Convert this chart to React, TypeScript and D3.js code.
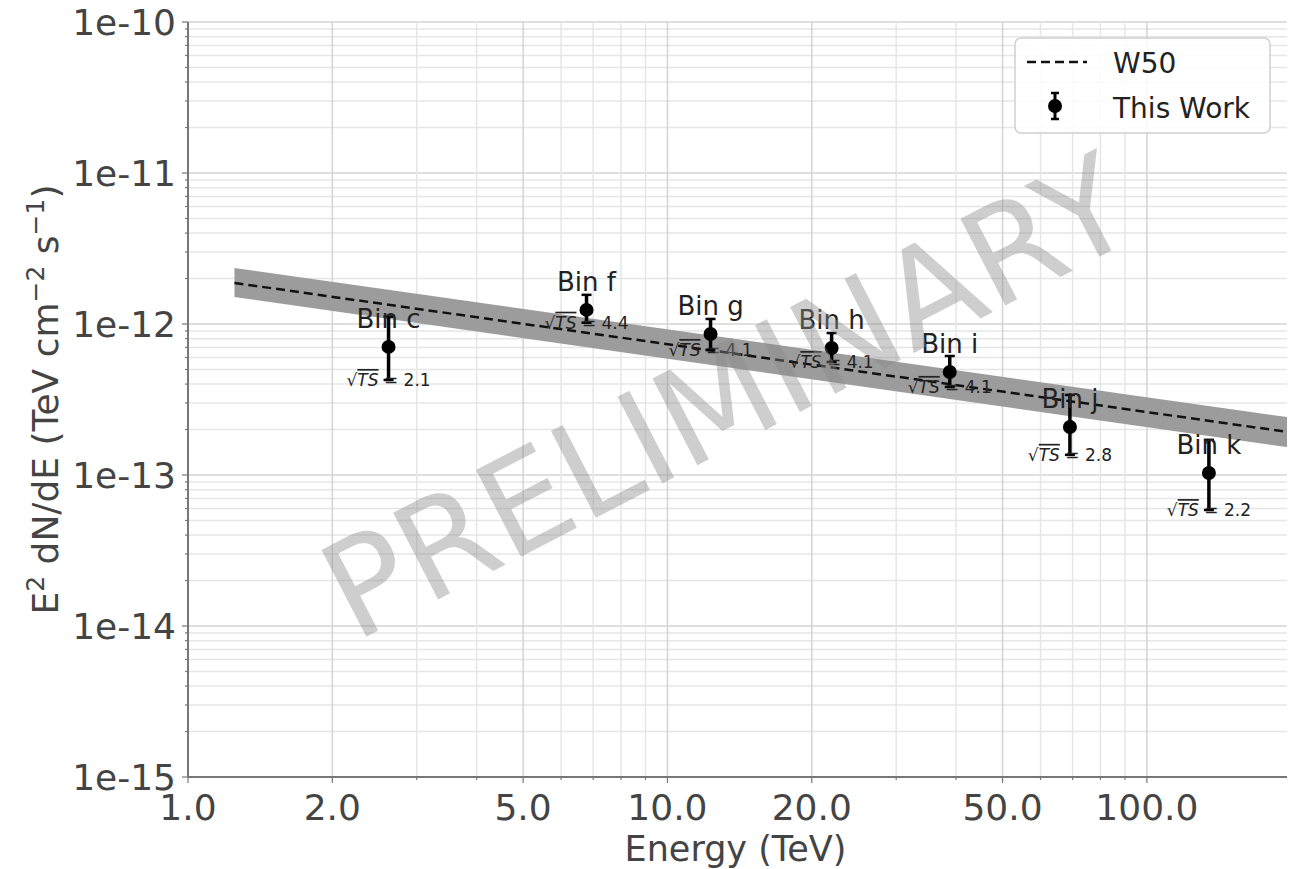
import React, { useEffect, useRef } from "react";
import * as d3 from "d3";

// flux points per energy bin
const bins = ["Bin c", "Bin f", "Bin g", "Bin h", "Bin i", "Bin j", "Bin k"];
const energy = [2.62, 6.78, 12.3, 22.0, 38.8, 69.1, 134.7];
const flux = [7.05e-13, 1.24e-12, 8.59e-13, 6.94e-13, 4.81e-13, 2.08e-13, 1.03e-13];
const fluxHi = [1.12e-12, 1.56e-12, 1.08e-12, 8.71e-13, 6.14e-13, 3.39e-13, 1.71e-13];
const fluxLo = [4.26e-13, 1.02e-12, 6.73e-13, 5.6e-13, 3.83e-13, 1.36e-13, 5.86e-14];
const sqrtTS = ["2.1", "4.4", "4.1", "4.1", "4.1", "2.8", "2.2"];

// W50 model line and band (end points)
const w50Energy = [1.25, 196];
const w50Flux = [1.87e-12, 1.93e-13];
const w50Upper = [2.35e-12, 2.42e-13];
const w50Lower = [1.51e-12, 1.53e-13];

const xTicks = [1, 2, 5, 10, 20, 50, 100];
const xTickLabels = ["1.0", "2.0", "5.0", "10.0", "20.0", "50.0", "100.0"];
const yTicks = [1e-10, 1e-11, 1e-12, 1e-13, 1e-14, 1e-15];
const yTickLabels = ["1e-10", "1e-11", "1e-12", "1e-13", "1e-14", "1e-15"];

const W = 1304;
const H = 869;
const margin = { top: 22, right: 17, bottom: 92, left: 188 };
const FONT = "'DejaVu Sans', sans-serif";

const SpectrumChart = () => {
  const ref = useRef(null);

  useEffect(() => {
    const svg = d3.select(ref.current);
    svg.selectAll("*").remove();

    const x = d3.scaleLog().domain([1, 196]).range([margin.left, W - margin.right]);
    const y = d3.scaleLog().domain([1e-15, 1e-10]).range([H - margin.bottom, margin.top]);
    const x0 = margin.left, x1 = W - margin.right;
    const y0 = H - margin.bottom, y1 = margin.top;
    const isMajorY = (d) => yTicks.some((t) => Math.abs(t / d - 1) < 1e-6);

    // grid
    const grid = svg.append("g");
    const yMinor = y.ticks();
    grid.selectAll("line.ym").data(yMinor).enter().append("line")
      .attr("x1", x0).attr("x2", x1)
      .attr("y1", (d) => y(d)).attr("y2", (d) => y(d))
      .attr("stroke", (d) => (isMajorY(d) ? "#d4d4d4" : "#e6e6e6"))
      .attr("stroke-width", 1.5);
    const xMinor = x.ticks().filter((d) => d <= 196);
    grid.selectAll("line.xm").data(xMinor).enter().append("line")
      .attr("y1", y0).attr("y2", y1)
      .attr("x1", (d) => x(d)).attr("x2", (d) => x(d))
      .attr("stroke", (d) => (xTicks.includes(d) ? "#d4d4d4" : "#e6e6e6"))
      .attr("stroke-width", 1.5);

    // W50 band + dashed line
    const band = w50Energy.map((e, i) => ({ e, lo: w50Lower[i], hi: w50Upper[i] }));
    svg.append("path")
      .datum(band)
      .attr("d", d3.area().x((d) => x(d.e)).y0((d) => y(d.lo)).y1((d) => y(d.hi)))
      .attr("fill", "#9c9c9c");
    svg.append("path")
      .datum(w50Energy.map((e, i) => [e, w50Flux[i]]))
      .attr("d", d3.line().x((d) => x(d[0])).y((d) => y(d[1])))
      .attr("fill", "none")
      .attr("stroke", "#111")
      .attr("stroke-width", 2.5)
      .attr("stroke-dasharray", "9,5");

    // axes spines + ticks
    const ax = svg.append("g").attr("stroke", "#777");
    ax.append("line").attr("x1", x0).attr("x2", x0).attr("y1", y0).attr("y2", y1).attr("stroke-width", 2);
    ax.append("line").attr("x1", x0).attr("x2", x1).attr("y1", y0).attr("y2", y0).attr("stroke-width", 2);
    ax.selectAll("line.xt").data(xMinor).enter().append("line")
      .attr("x1", (d) => x(d)).attr("x2", (d) => x(d))
      .attr("y1", y0).attr("y2", (d) => y0 + (xTicks.includes(d) ? 6 : 3))
      .attr("stroke-width", 1.2);
    ax.selectAll("line.yt").data(yMinor).enter().append("line")
      .attr("y1", (d) => y(d)).attr("y2", (d) => y(d))
      .attr("x1", x0).attr("x2", (d) => x0 - (isMajorY(d) ? 6 : 3))
      .attr("stroke-width", 1.2);

    const labels = svg.append("g").attr("font-family", FONT).attr("fill", "#444");
    labels.selectAll("text.xl").data(xTicks).enter().append("text")
      .attr("x", (d) => x(d)).attr("y", y0 + 43)
      .attr("text-anchor", "middle").attr("font-size", 36)
      .text((d, i) => xTickLabels[i]);
    labels.selectAll("text.yl").data(yTicks).enter().append("text")
      .attr("x", x0 - 12).attr("y", (d) => y(d) + 13)
      .attr("text-anchor", "end").attr("font-size", 36)
      .text((d, i) => yTickLabels[i]);
    labels.append("text")
      .attr("x", (x0 + x1) / 2 - 2).attr("y", H - 8)
      .attr("text-anchor", "middle").attr("font-size", 35)
      .text("Energy (TeV)");

    // y label with mathtext-like superscripts
    const yl = labels.append("text")
      .attr("transform", `translate(58,${(y0 + y1) / 2 + 0})rotate(-90)`)
      .attr("text-anchor", "middle").attr("font-size", 36);
    const parts = [
      ["E", false], ["2", true], [" dN/dE (TeV cm", false], ["−2", true],
      [" s", false], ["−1", true], [")", false],
    ];
    parts.forEach(([t, sup]) => {
      const sp = yl.append("tspan").text(t);
      if (sup) sp.attr("font-size", 25).attr("dy", -14);
      else sp.attr("dy", 14 * (yl.selectAll("tspan").size() > 1 ? 1 : 0));
    });

    // points
    const pts = bins.map((b, i) => ({
      b, e: energy[i], f: flux[i], hi: fluxHi[i], lo: fluxLo[i], ts: sqrtTS[i],
    }));
    const pg = svg.append("g");
    pg.selectAll("line.eb").data(pts).enter().append("line")
      .attr("x1", (d) => x(d.e)).attr("x2", (d) => x(d.e))
      .attr("y1", (d) => y(d.hi)).attr("y2", (d) => y(d.lo))
      .attr("stroke", "#000").attr("stroke-width", 3.5);
    ["hi", "lo"].forEach((k) => {
      pg.selectAll(`line.cap${k}`).data(pts).enter().append("line")
        .attr("x1", (d) => x(d.e) - 5).attr("x2", (d) => x(d.e) + 5)
        .attr("y1", (d) => y(d[k])).attr("y2", (d) => y(d[k]))
        .attr("stroke", "#000").attr("stroke-width", 2.5);
    });
    pg.selectAll("circle").data(pts).enter().append("circle")
      .attr("cx", (d) => x(d.e)).attr("cy", (d) => y(d.f)).attr("r", 7).attr("fill", "#000");

    pg.selectAll("text.bin").data(pts).enter().append("text")
      .attr("x", (d) => x(d.e)).attr("y", (d) => y(d.f) - 19)
      .attr("text-anchor", "middle").attr("font-family", FONT).attr("font-size", 26)
      .attr("fill", "#222")
      .text((d) => d.b);

    const ts = pg.selectAll("text.ts").data(pts).enter().append("text")
      .attr("x", (d) => x(d.e)).attr("y", (d) => y(d.lo) + 6)
      .attr("text-anchor", "middle").attr("font-family", FONT).attr("font-size", 17)
      .attr("fill", "#222");
    ts.append("tspan").text("√");
    ts.append("tspan").attr("font-style", "italic").attr("text-decoration", "overline").text("TS");
    ts.append("tspan").text((d) => ` = ${d.ts}`);

    // legend
    const lg = svg.append("g").attr("font-family", FONT);
    lg.append("rect").attr("x", 1015).attr("y", 38).attr("width", 255).attr("height", 95)
      .attr("rx", 6).attr("fill", "#fff").attr("fill-opacity", 0.85)
      .attr("stroke", "#d0d0d0").attr("stroke-width", 1.5);
    lg.append("line").attr("x1", 1027).attr("x2", 1087).attr("y1", 62).attr("y2", 62)
      .attr("stroke", "#111").attr("stroke-width", 2.5).attr("stroke-dasharray", "9,5");
    lg.append("text").attr("x", 1113).attr("y", 73).attr("font-size", 28).attr("fill", "#222").text("W50");
    lg.append("line").attr("x1", 1055).attr("x2", 1055).attr("y1", 93).attr("y2", 119)
      .attr("stroke", "#000").attr("stroke-width", 3);
    [93, 119].forEach((yy) => {
      lg.append("line").attr("x1", 1051).attr("x2", 1059).attr("y1", yy).attr("y2", yy)
        .attr("stroke", "#000").attr("stroke-width", 2.5);
    });
    lg.append("circle").attr("cx", 1055).attr("cy", 106).attr("r", 7).attr("fill", "#000");
    lg.append("text").attr("x", 1113).attr("y", 118).attr("font-size", 28).attr("fill", "#222").text("This Work");

    // watermark
    svg.append("text")
      .attr("transform", "translate(727,398)rotate(-27.4)")
      .attr("text-anchor", "middle").attr("dominant-baseline", "central")
      .attr("font-family", FONT).attr("font-size", 134)
      .attr("fill", "#8a8a8a").attr("fill-opacity", 0.42)
      .text("PRELIMINARY");
  }, []);

  return (
    <svg
      ref={ref}
      width={W}
      height={H}
      style={{ position: "absolute", left: 0, top: 0, background: "#fff" }}
    />
  );
};

export default function App() {
  return <SpectrumChart />;
}
